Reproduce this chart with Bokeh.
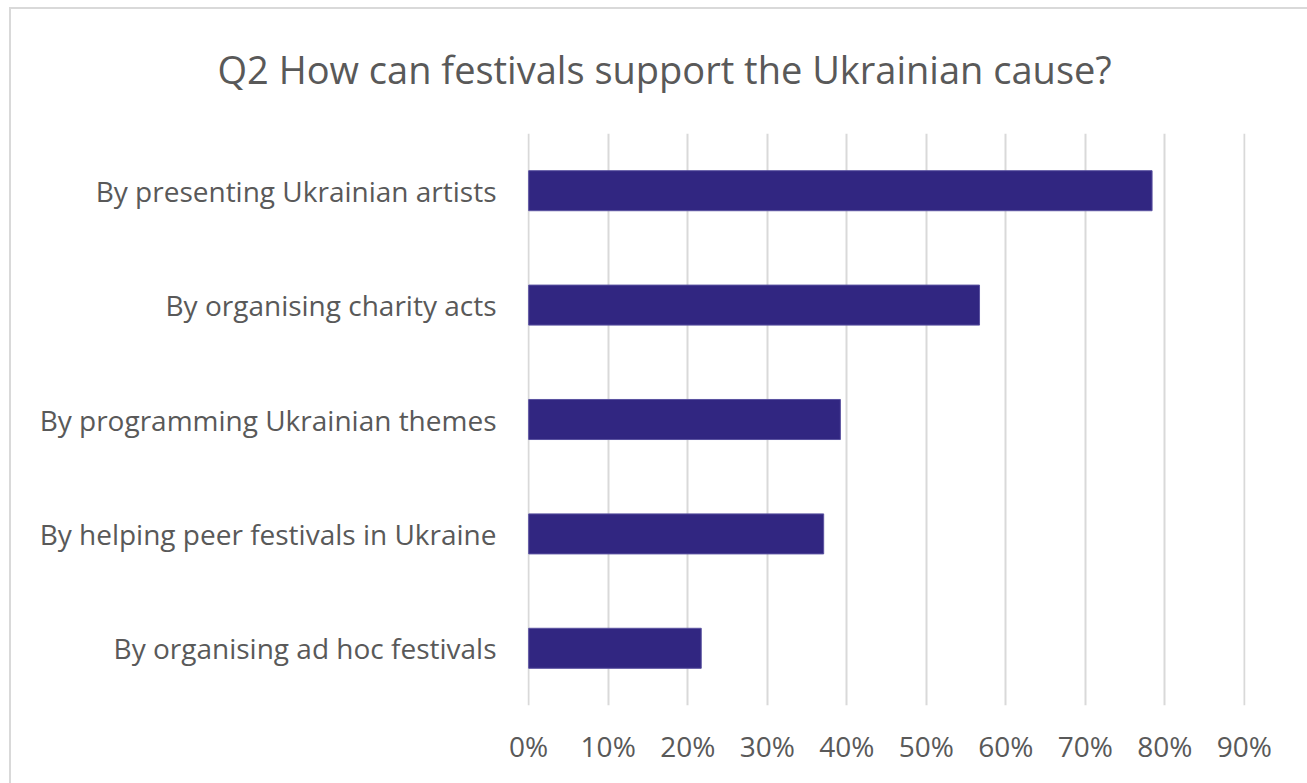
from bokeh.plotting import figure
from bokeh.models import NumeralTickFormatter, FixedTicker
from bokeh.embed import file_html
from bokeh.resources import INLINE

categories = [
    "By presenting Ukrainian artists",
    "By organising charity acts",
    "By programming Ukrainian themes",
    "By helping peer festivals in Ukraine",
    "By organising ad hoc festivals",
]
values = [0.784, 0.567, 0.392, 0.371, 0.217]
x_ticks = [0.0, 0.1, 0.2, 0.3, 0.4, 0.5, 0.6, 0.7, 0.8, 0.9]
title_text = "Q2 How can festivals support the Ukrainian cause?"

FONT = "Open Sans"
TEXT = "#595959"

p = figure(
    width=1307, height=783,
    y_range=list(reversed(categories)),
    x_range=(-0.0015, 0.9015),
    output_backend="svg", toolbar_location=None,
    min_border_left=527, min_border_right=62,
    min_border_top=133, min_border_bottom=78,
    title=title_text,
)
p.hbar(y=categories, right=values, left=0, height=0.35,
       fill_color="#312681", line_color="#5a52a0", line_width=1)

p.title.text_font = FONT
p.title.text_font_size = "38px"
p.title.text_font_style = "normal"
p.title.text_color = TEXT
p.title.align = "left"
p.title.offset = -310
p.title.standoff = 78

p.xaxis.ticker = FixedTicker(ticks=x_ticks)
p.xaxis.formatter = NumeralTickFormatter(format="0%")
p.xaxis.axis_line_color = None
p.xaxis.major_tick_line_color = None
p.xaxis.minor_tick_line_color = None
p.xaxis.major_label_text_font = FONT
p.xaxis.major_label_text_font_size = "28px"
p.xaxis.major_label_text_color = TEXT
p.xaxis.major_label_standoff = 15

p.yaxis.axis_line_color = None
p.yaxis.major_tick_line_color = None
p.yaxis.major_label_text_font = FONT
p.yaxis.major_label_text_font_size = "28px"
p.yaxis.major_label_text_color = TEXT
p.yaxis.major_label_standoff = 25

p.ygrid.grid_line_color = None
p.xgrid.grid_line_color = "#d9d9d9"
p.xgrid.grid_line_width = 2
p.outline_line_color = None
p.background_fill_color = "white"
p.border_fill_color = None

p.styles = {
    "background-color": "white",
    "background-image": "linear-gradient(#d9d9d9, #d9d9d9), linear-gradient(#d9d9d9, #d9d9d9)",
    "background-size": "2px 776px, 1298px 2px",
    "background-position": "9px 7px, 9px 7px",
    "background-repeat": "no-repeat",
}

open("out.html", "w").write(file_html(p, INLINE))
